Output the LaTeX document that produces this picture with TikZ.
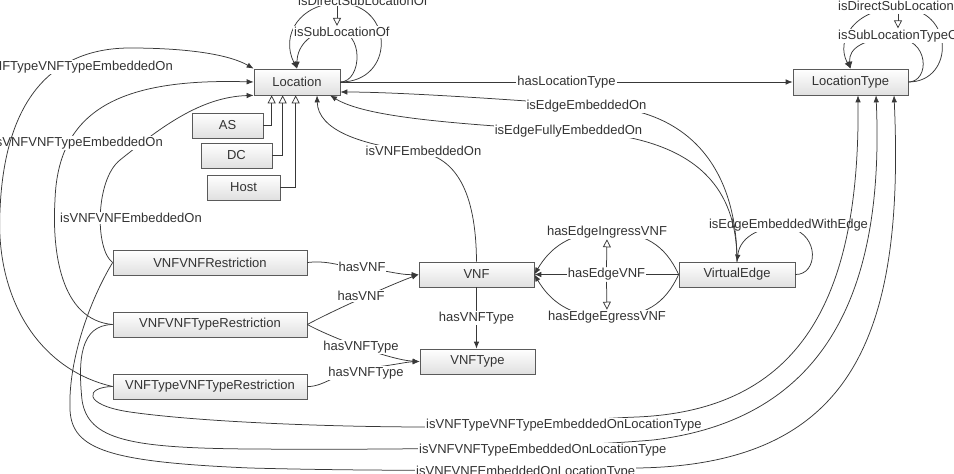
\documentclass[tikz,border=0pt]{standalone}
\usepackage{fontspec}
\setmainfont{Liberation Sans}
\usetikzlibrary{arrows.meta,shadows,calc}
\definecolor{edgec}{HTML}{383838}
\definecolor{boxline}{HTML}{5A5A5A}
\definecolor{boxbot}{HTML}{E0E0E0}
\definecolor{txtc}{HTML}{333333}
\newcommand{\dgfont}{\fontsize{13}{14}\selectfont}
\begin{document}
\begin{tikzpicture}[x=1pt,y=-1pt,
  box/.style={draw=boxline, line width=0.7pt, top color=white, bottom color=boxbot,
    inner sep=0pt, minimum height=25pt, font=\dgfont, text=txtc,
    drop shadow={shadow xshift=1.2pt, shadow yshift=-1.2pt, opacity=0.25}},
  line/.style={draw=edgec, line width=0.75pt},
  arr/.style={line, -{Latex[length=7pt,width=5.5pt]}},
  gen/.style={line, -{Triangle[open,length=8pt,width=8pt]}},
  lbl/.style={font=\dgfont, text=txtc, fill=white, inner sep=1pt}]
\path[use as bounding box, fill=white] (0,0) rectangle (954,474);

% classes
\node[box, minimum width=86pt, minimum height=26pt] (loc) at (297,82) {Location};
\node[box, minimum width=115pt, minimum height=26pt] (lt) at (850.5,82) {LocationType};
\node[box, minimum width=71pt] (as) at (227.5,125.5) {AS};
\node[box, minimum width=71pt] (dc) at (236.5,155.5) {DC};
\node[box, minimum width=73pt] (host) at (243.5,187.5) {Host};
\node[box, minimum width=194pt] (vvr) at (210,262.5) {VNFVNFRestriction};
\node[box, minimum width=194pt] (vvtr) at (210,324.5) {VNFVNFTypeRestriction};
\node[box, minimum width=194pt] (vtvtr) at (210,386.5) {VNFTypeVNFTypeRestriction};
\node[box, minimum width=115pt] (vnf) at (476.5,274.5) {VNF};
\node[box, minimum width=115pt] (vnft) at (477.5,361.5) {VNFType};
\node[box, minimum width=116pt] (ve) at (737,274.5) {VirtualEdge};

% Location self loops
\draw[arr] (loc.east) .. controls (395,82) and (395,5) .. (340,3) .. controls (300,3) and (280,35) .. (loc.north);
\draw[arr] (loc.east) .. controls (362,82) and (365,30) .. (335,30) .. controls (312,30) and (297,45) .. (loc.north);
\node[lbl, anchor=base west] (ldir) at (297,5) {isDirectSubLocationOf};
\node[lbl, anchor=base west] (lsub) at (293,36.5) {isSubLocationOf};
\coordinate (t1) at (337,0);
\draw[gen] (ldir.south -| t1) -- (lsub.north -| t1);

% LocationType self loops
\draw[arr] (lt.east) .. controls (955,82) and (955,8) .. (900,8) .. controls (855,8) and (835,40) .. (lt.north);
\draw[arr] (lt.east) .. controls (930,82) and (930,38) .. (895,38) .. controls (865,38) and (848,48) .. (lt.north);
\node[lbl, anchor=base west] (ldirt) at (837,10) {isDirectSubLocationTypeOf};
\node[lbl, anchor=base west] (lsubt) at (837,39) {isSubLocationTypeOf};
\coordinate (t2) at (898,0);
\draw[gen] (ldirt.south -| t2) -- (lsubt.north -| t2);

% hasLocationType
\draw[arr] (loc.east) -- (lt.west) node[lbl, midway] (lhlt) {hasLocationType};

% VirtualEdge self loop
\draw[arr] (ve.east) .. controls (818,275) and (820,235) .. (790,228) .. controls (765,224) and (740,235) .. (ve.north);
\node[lbl] (lewe) at (788.5,225) {isEdgeEmbeddedWithEdge};

% VirtualEdge -> Location
\draw[arr] (ve.north) .. controls (737,180) and (700,120) .. (620,108) .. controls (520,100) and (400,92) .. ($(loc.east)+(0,10)$);
\node[lbl] (lee) at (586.5,106) {isEdgeEmbeddedOn};
\draw[arr] (ve.north) .. controls (737,200) and (710,145) .. (600,133) .. controls (480,125) and (370,120) .. ($(loc.south)+(33,0)$);
\node[lbl] (lefe) at (568.5,131) {isEdgeFullyEmbeddedOn};

% VNF -> Location
\draw[arr] (vnf.north) .. controls (476,190) and (455,158) .. (420,152) .. controls (360,145) and (318,130) .. ($(loc.south)+(20,0)$);
\node[lbl] (lvemb) at (423.5,151) {isVNFEmbeddedOn};

% subclasses
\draw[gen] (as.east) -| ($(loc.south west)+(18,0)$);
\draw[gen] (dc.east) -| ($(loc.south west)+(29,0)$);
\draw[gen] (host.east) -| ($(loc.south west)+(42,0)$);

% VirtualEdge -> VNF
\draw[arr] (ve.west) -- (vnf.east) node[lbl, midway] (lhev) {hasEdgeVNF};
\draw[arr] (ve.west) .. controls (665,245) and (645,232) .. (607,232) .. controls (570,232) and (550,248) .. (vnf.east);
\node[lbl] (ling) at (607,232) {hasEdgeIngressVNF};
\draw[arr] (ve.west) .. controls (665,304) and (645,317) .. (607,317) .. controls (570,317) and (550,301) .. (vnf.east);
\node[lbl] (legr) at (607,317) {hasEdgeEgressVNF};
\draw[gen] (lhev.north) -- (ling.south);
\draw[gen] (lhev.south) -- (legr.north);

% restrictions -> VNF / VNFType
\draw[arr] (vvr.east) .. controls (330,260) and (340,267) .. (362,268) .. controls (385,270) and (400,275) .. (vnf.west);
\node[lbl] (lhv1) at (362,267) {hasVNF};
\draw[arr] (vvtr.east) .. controls (330,312) and (390,285) .. (vnf.west);
\node[lbl] (lhv2) at (361,296) {hasVNF};
\draw[arr] (vvtr.east) .. controls (330,337) and (390,360) .. (vnft.west);
\node[lbl] (lhvt1) at (361,347) {hasVNFType};
\draw[arr] (vtvtr.east) .. controls (325,387) and (340,370) .. (366,368) .. controls (390,366) and (405,362) .. (vnft.west);
\node[lbl] (lhvt2) at (366,373) {hasVNFType};
\draw[arr] (vnf.south) -- (vnf.south |- vnft.north) node[lbl, midway] (lhvt3) {hasVNFType};

% restrictions -> Location
\draw[arr] (vvtr.west) .. controls (60,320) and (52,250) .. (55,200) .. controls (58,110) and (120,78) .. (loc.west);
\draw[arr] (vvr.west) .. controls (95,250) and (95,180) .. (120,160) .. controls (160,128) and (200,97) .. (loc.south west);
\node[lbl] (lvv) at (131,218) {isVNFVNFEmbeddedOn};
\node[lbl, anchor=east] (lvvt) at (164,143) {isVNFVNFTypeEmbeddedOn};
\draw[arr] (vtvtr.west) .. controls (40,370) and (-5,300) .. (0,210) .. controls (5,90) and (60,48) .. (130,48) .. controls (190,48) and (230,55) .. (loc.north west);
\node[lbl, anchor=east] (lvtvt) at (174,67) {isVNFTypeVNFTypeEmbeddedOn};

% restrictions -> LocationType
\draw[arr] (vtvtr.west) .. controls (85,387) and (82,405) .. (130,412) .. controls (200,422) and (330,427) .. (430,427) .. controls (520,427) and (580,419) .. (637,417) .. controls (800,410) and (860,300) .. ($(lt.south)+(7.5,0)$);
\node[lbl, anchor=west] (lb1) at (425,425) {isVNFTypeVNFTypeEmbeddedOnLocationType};
\draw[arr] (vvtr.west) .. controls (80,325) and (78,360) .. (82,400) .. controls (88,440) and (130,448) .. (250,449) .. controls (400,450) and (560,448) .. (653,440) .. controls (820,420) and (885,300) .. ($(lt.south)+(25.5,0)$);
\node[lbl, anchor=west] (lb2) at (418,450) {isVNFVNFTypeEmbeddedOnLocationType};
\draw[arr] (vvr.west) .. controls (90,300) and (68,360) .. (70,410) .. controls (72,450) and (110,462) .. (250,468) .. controls (400,472) and (560,470) .. (637,468) .. controls (850,465) and (905,340) .. ($(lt.south)+(43.5,0)$);
\node[lbl, anchor=west] (lb3) at (415,472) {isVNFVNFEmbeddedOnLocationType};
\end{tikzpicture}
\end{document}
